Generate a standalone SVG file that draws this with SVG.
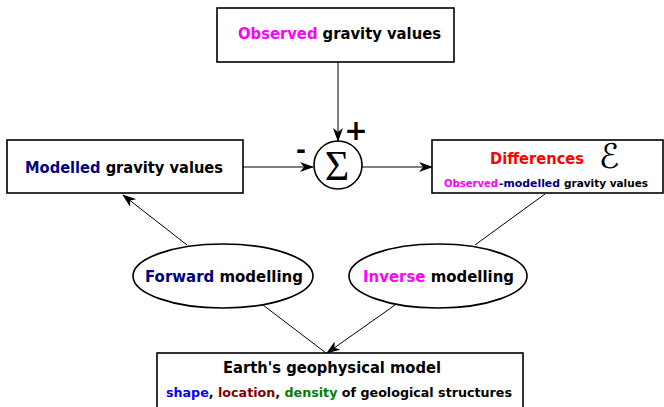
<svg xmlns="http://www.w3.org/2000/svg" width="664" height="407" viewBox="0 0 664 407">
<defs>
<marker id="ah" markerWidth="14" markerHeight="10" refX="13" refY="5" orient="auto" markerUnits="userSpaceOnUse">
<path d="M0,0 L14,5 L0,10 L4,5 z" fill="#000"/>
</marker>
<style>
.box{fill:#fff;stroke:#000;stroke-width:1.6}
.ell{fill:#fff;stroke:#000;stroke-width:1.6}
.t{font-family:"DejaVu Sans",Verdana,sans-serif;font-weight:bold;fill:#000}
.con{stroke:#000;stroke-width:1;fill:none}
.mag{fill:#ff00ff}.nav{fill:#000080}.red{fill:#ff0000}.blu{fill:#0000ff}.drd{fill:#800000}.grn{fill:#008000}
</style>
</defs>
<rect width="664" height="407" fill="#fff"/>
<g id="connectors">
<line class="con" x1="338" y1="62" x2="338" y2="141" marker-end="url(#ah)"/>
<line class="con" x1="243" y1="167" x2="313" y2="167" marker-end="url(#ah)"/>
<line class="con" x1="362" y1="167" x2="432" y2="167" marker-end="url(#ah)"/>
<line class="con" x1="187" y1="245" x2="123" y2="195" marker-end="url(#ah)"/>
<line class="con" x1="475" y1="245" x2="545" y2="194"/>
<line class="con" x1="263" y1="305" x2="326" y2="353"/>
<line class="con" x1="395" y1="305" x2="327" y2="353" marker-end="url(#ah)"/>
</g>
<g id="observed">
<rect class="box" x="217" y="8" width="237" height="54"/>
<text class="t" x="238" y="39" font-size="15" textLength="203" lengthAdjust="spacingAndGlyphs"><tspan class="mag">Observed</tspan> gravity values</text>
</g>
<g id="modelled">
<rect class="box" x="7" y="140" width="236" height="53"/>
<text class="t" x="25" y="173" font-size="15" textLength="198" lengthAdjust="spacingAndGlyphs"><tspan class="nav">Modelled</tspan> gravity values</text>
</g>
<g id="sum">
<circle cx="338" cy="165" r="24" fill="#fff" stroke="#000" stroke-width="1.6"/>
<text x="337" y="180" font-size="42" font-family="'Liberation Serif','Times New Roman',serif" text-anchor="middle">Σ</text>
<text class="t" x="356" y="140" font-size="28" text-anchor="middle">+</text>
<text class="t" x="301" y="158" font-size="24" text-anchor="middle">-</text>
</g>
<g id="differences">
<rect class="box" x="432" y="140" width="231" height="53"/>
<text class="t red" x="490" y="164" font-size="15" textLength="94" lengthAdjust="spacingAndGlyphs">Differences</text>
<text x="609" y="168" font-size="34" font-family="'DejaVu Sans',sans-serif" text-anchor="middle">ℰ</text>
<text class="t mag" x="444" y="187" font-size="11" textLength="54" lengthAdjust="spacingAndGlyphs">Observed</text>
<text class="t nav" x="499" y="187" font-size="11" textLength="61" lengthAdjust="spacingAndGlyphs">-modelled</text>
<text class="t" x="564" y="187" font-size="11" textLength="84" lengthAdjust="spacingAndGlyphs">gravity values</text>
</g>
<g id="forward">
<ellipse class="ell" cx="223" cy="276" rx="90" ry="32"/>
<text class="t" x="145" y="282" font-size="16" textLength="158" lengthAdjust="spacingAndGlyphs"><tspan class="nav">Forward</tspan> modelling</text>
</g>
<g id="inverse">
<ellipse class="ell" cx="438" cy="276" rx="89" ry="32"/>
<text class="t" x="363" y="282" font-size="16" textLength="151" lengthAdjust="spacingAndGlyphs"><tspan class="mag">Inverse</tspan> modelling</text>
</g>
<g id="earth">
<rect class="box" x="157" y="353" width="366" height="60"/>
<text class="t" x="223" y="373" font-size="15" textLength="218" lengthAdjust="spacingAndGlyphs">Earth's geophysical model</text>
<text class="t" x="166" y="397" font-size="12" textLength="346" lengthAdjust="spacingAndGlyphs"><tspan class="blu">shape</tspan>, <tspan class="drd">location</tspan>, <tspan class="grn">density</tspan> of geological structures</text>
</g>
</svg>
